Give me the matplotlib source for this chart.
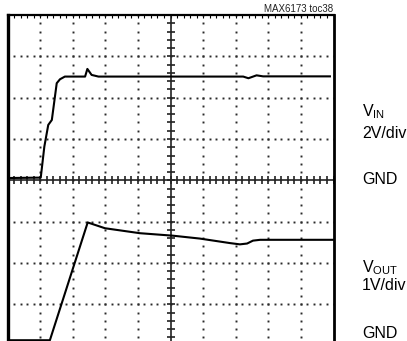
import numpy as np
import matplotlib
matplotlib.use("Agg")
import matplotlib.pyplot as plt
from matplotlib import font_manager

# ---- data (time in divisions, voltages in volts) ----
vin_t = [0.0, 1.02, 1.13, 1.25, 1.36, 1.51, 1.61, 1.76, 2.38, 2.45, 2.58, 2.79,
         7.23, 7.39, 7.64, 7.84, 9.89]
vin_v = [0.11, 0.13, 1.63, 2.68, 2.92, 4.70, 4.89, 5.02, 5.02, 5.39, 5.10, 5.02,
         5.02, 4.94, 5.08, 5.03, 5.03]
vout_t = [0.0, 1.30, 2.46, 2.99, 4.06, 5.07, 5.90, 6.83, 7.13, 7.35, 7.53, 7.75, 10.0]
vout_v = [0.0, 0.0, 2.85, 2.71, 2.59, 2.53, 2.46, 2.35, 2.32, 2.34, 2.41, 2.43, 2.43]

vin_scale = 2.0     # V/div
vout_scale = 1.0    # V/div
vin_gnd = 0.0       # division position of VIN ground
vout_gnd = -3.87    # division position of VOUT ground

fonts = {f.name for f in font_manager.fontManager.ttflist}
fam = "Liberation Sans Narrow" if "Liberation Sans Narrow" in fonts else "Liberation Sans"

W, H = 407, 341
fig = plt.figure(figsize=(W / 100, H / 100), dpi=100)
left_px, right_px, top_px, bot_px = 7.5, 333.5, 15.0, 345.6
ax = fig.add_axes([left_px / W, 1 - bot_px / H, (right_px - left_px) / W, (bot_px - top_px) / H])
ax.set_xlim(0, 10)
ax.set_ylim(-4, 4)

# dotted grid
xminor = np.arange(0, 10.0001, 0.2)
yminor = np.arange(-4, 4.0001, 0.2)
for gx in range(1, 10):
    if gx == 5:
        continue
    ax.plot(np.full_like(yminor, gx), yminor, ls="none", marker="s", ms=1.4,
            color="#2a2a2a", mew=0)
for gy in range(-3, 4):
    if gy == 0:
        continue
    ax.plot(xminor, np.full_like(xminor, gy), ls="none", marker="s", ms=1.4,
            color="#2a2a2a", mew=0)

# center axes with ticks
ax.axhline(0, color="#222222", lw=1.2)
ax.axvline(5, color="#222222", lw=1.2)
ax.plot(xminor, np.zeros_like(xminor), ls="none", marker="|", ms=5.5, mew=1.2, color="#222222")
ax.plot(np.full_like(yminor, 5), yminor, ls="none", marker="_", ms=5.5, mew=1.2, color="#222222")

# traces
ax.plot(vin_t, vin_gnd + np.array(vin_v) / vin_scale, color="black", lw=1.5,
        solid_joinstyle="round")
ax.plot(vout_t, vout_gnd + np.array(vout_v) / vout_scale, color="black", lw=1.5,
        solid_joinstyle="round")

# frame
for side, lw in (("left", 2.4), ("right", 2.0), ("top", 1.6), ("bottom", 1.6)):
    ax.spines[side].set_linewidth(lw)
    ax.spines[side].set_color("black")
ax.set_xticks(xminor)
ax.set_yticks(yminor)
ax.tick_params(which="both", direction="in", length=2.5, width=0.8, top=True,
               bottom=False, left=False, right=False,
               labelbottom=False, labelleft=False)

# text
fig.text(333 / W, 1 - 9 / H, "MAX6173 toc38", ha="right", va="center",
         fontsize=7, family=fam, color="#222222")
fig.text(362 / W, 1 - 112 / H, r"V$_{\mathregular{IN}}$", ha="left", va="center",
         fontsize=11.5, family=fam)
fig.text(362 / W, 1 - 133 / H, "2V/div", ha="left", va="center", fontsize=11.5, family=fam)
fig.text(362 / W, 1 - 179 / H, "GND", ha="left", va="center", fontsize=11.5, family=fam)
fig.text(362 / W, 1 - 268 / H, r"V$_{\mathregular{OUT}}$", ha="left", va="center",
         fontsize=11.5, family=fam)
fig.text(362 / W, 1 - 285 / H, "1V/div", ha="left", va="center", fontsize=11.5, family=fam)
fig.text(362 / W, 1 - 334 / H, "GND", ha="left", va="center", fontsize=11.5, family=fam)

fig.savefig("out.png", dpi=100)
